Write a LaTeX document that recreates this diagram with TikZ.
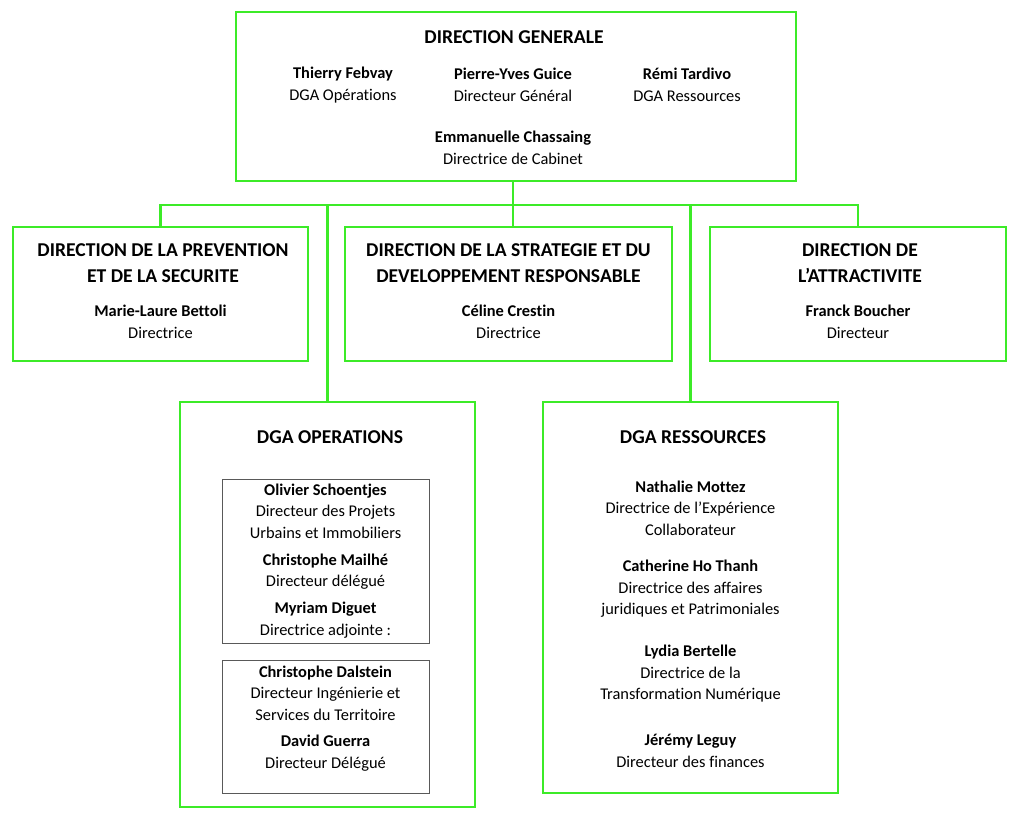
\documentclass[tikz,border=0pt]{standalone}
\usepackage{fontspec}
\setmainfont[Ligatures=NoCommon]{Carlito}
\usetikzlibrary{positioning}

\definecolor{orggreen}{RGB}{60,235,40}
\tikzset{
  dirbox/.style={draw=orggreen, line width=2.6pt, inner sep=0pt},
  subbox/.style={draw=black!65, line width=0.9pt, inner sep=0pt},
  head/.style={font=\fontsize{19.6}{26}\selectfont\bfseries, align=center, inner sep=0pt},
  who/.style={font=\fontsize{16.4}{21.5}\selectfont, align=center, inner sep=0pt},
  link/.style={draw=orggreen, line width=2.6pt}
}
\newcommand{\pers}[2]{\textbf{#1}\\#2}

\begin{document}
\begin{tikzpicture}[x=1pt,y=-1pt]
\useasboundingbox (0,0) rectangle (1024,822);

% boxes
\node[dirbox, minimum width=560pt, minimum height=169pt] (dg) at (516,96.5) {};
\node[dirbox, minimum width=295pt, minimum height=134pt] (prev) at (160.5,294) {};
\node[dirbox, minimum width=327pt, minimum height=134pt] (strat) at (508.5,294) {};
\node[dirbox, minimum width=296pt, minimum height=134pt] (attr) at (858,294) {};
\node[dirbox, minimum width=295pt, minimum height=405pt] (ops) at (327.5,604.5) {};
\node[dirbox, minimum width=295pt, minimum height=391pt] (res) at (690.5,597.5) {};
\node[subbox, minimum width=207pt, minimum height=164pt] (opsa) at (325.5,561) {};
\node[subbox, minimum width=207pt, minimum height=133pt] (opsb) at (325.5,726.5) {};

% direction generale
\node[head] (dgt) at (514,37) {DIRECTION GENERALE};
\node[who] (febvay) at (343,85) {\pers{Thierry Febvay}{DGA Opérations}};
\node[who] (guice) at (513,85) {\pers{Pierre-Yves Guice}{Directeur Général}};
\node[who] (tardivo) at (687,85) {\pers{Rémi Tardivo}{DGA Ressources}};
\node[who] (chassaing) at (513,148) {\pers{Emmanuelle Chassaing}{Directrice de Cabinet}};

% directions
\node[head] (prevt) at (163,263) {DIRECTION DE LA PREVENTION\\ET DE LA SECURITE};
\node[who] (bettoli) at (160.5,322) {\pers{Marie-Laure Bettoli}{Directrice}};
\node[head] (stratt) at (508.5,263) {DIRECTION DE LA STRATEGIE ET DU\\DEVELOPPEMENT RESPONSABLE};
\node[who] (crestin) at (508.5,322) {\pers{Céline Crestin}{Directrice}};
\node[head] (attrt) at (860,263) {DIRECTION DE\\L’ATTRACTIVITE};
\node[who] (boucher) at (858,322) {\pers{Franck Boucher}{Directeur}};

% dga operations
\node[head] (opst) at (330,437) {DGA OPERATIONS};
\node[who] (opsat) at (opsa) {\pers{Olivier Schoentjes}{Directeur des Projets\\Urbains et Immobiliers}\\[5.5pt]
  \pers{Christophe Mailhé}{Directeur délégué}\\[5.5pt]
  \pers{Myriam Diguet}{Directrice adjointe :}};
\node[who] (opsbt) at (325.5,718.5) {\pers{Christophe Dalstein}{Directeur Ingénierie et\\Services du Territoire}\\[5pt]
  \pers{David Guerra}{Directeur Délégué}};

% dga ressources
\node[head] (rest) at (693,437) {DGA RESSOURCES};
\node[who] (mottez) at (690.5,508) {\pers{Nathalie Mottez}{Directrice de l’Expérience\\Collaborateur}};
\node[who] (hothanh) at (690.5,589) {\pers{Catherine Ho Thanh}{Directrice des affaires\\juridiques et Patrimoniales}};
\node[who] (bertelle) at (690.5,674) {\pers{Lydia Bertelle}{Directrice de la\\Transformation Numérique}};
\node[who] (leguy) at (690.5,751) {\pers{Jérémy Leguy}{Directeur des finances}};

% links
\coordinate (split) at (513,205);
\draw[link] (dg.south -| split) -- (strat.north -| split);
\draw[link] (prev.north) -- (prev.north |- split) -- (attr.north |- split) -- (attr.north);
\draw[link] (ops.north) -- (ops.north |- split);
\draw[link] (res.north) -- (res.north |- split);
\end{tikzpicture}
\end{document}
